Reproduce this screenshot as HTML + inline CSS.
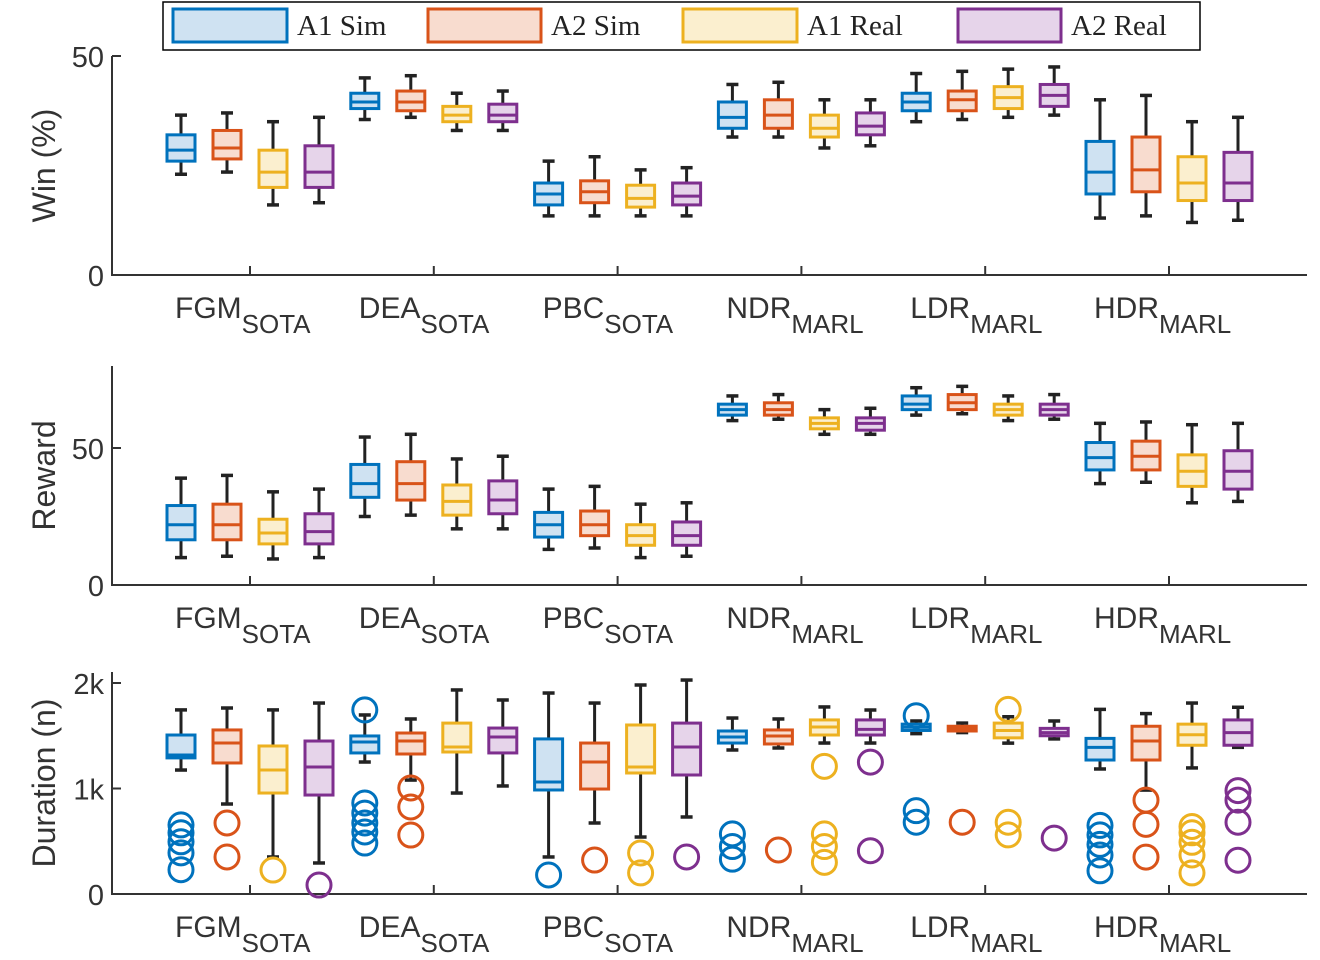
<!DOCTYPE html>
<html><head><meta charset="utf-8">
<style>
html,body{margin:0;padding:0;background:#fff;}
svg{display:block;}
</style></head>
<body>
<svg id="chart" width="1320" height="960" viewBox="0 0 1320 960" xmlns="http://www.w3.org/2000/svg">
  <g id="legend">
    <rect x="163" y="2" width="1037" height="48" fill="#fff" stroke="#000" stroke-width="1.5"/>
  </g>
</svg>
<script>
// ---- data ----
const categories = ["FGM","DEA","PBC","NDR","LDR","HDR"];
const categorySubs = ["SOTA","SOTA","SOTA","MARL","MARL","MARL"];
const seriesNames = ["A1 Sim","A2 Sim","A1 Real","A2 Real"];
const seriesColors = ["#0072BD","#D95319","#EDB120","#7E2F8E"];
const seriesFills = ["#cfe2f2","#f8dccf","#fbefcf","#e6d4ea"];

// [low whisker, q1, median, q3, high whisker] per category per series
const winStats = [
  [[23,26,28.5,32,36.5],[23.5,26.5,29,33,37],[16,20,23.5,28.5,35],[16.5,20,23.5,29.5,36]],
  [[35.5,38,39.5,41.5,45],[36,37.5,39.5,42,45.5],[33,35,36.5,38.5,41.5],[33,35,36.5,39,42]],
  [[13.5,16,18.5,21,26],[13.5,16.5,19,21.5,27],[13.5,15.5,17.5,20.5,24],[13.5,16,18,21,24.5]],
  [[31.5,33.5,36,39.5,43.5],[31.5,33.5,36.5,40,44],[29,31.5,33.5,36.5,40],[29.5,32,34,37,40]],
  [[35,37.5,39.5,41.5,46],[35.5,37.5,40,42,46.5],[36,38,40.5,43,47],[36.5,38.5,41,43.5,47.5]],
  [[13,18.5,23.5,30.5,40],[13.5,19,24,31.5,41],[12,17,21,27,35],[12.5,17,21,28,36]]
];
const rewardStats = [
  [[10,16.5,22,29,39],[10.5,16.5,22,29.5,40],[9.5,15,19,24,34],[10,15,19.5,26,35]],
  [[25,32,37,44,54],[25.5,31,37,45,55],[20.5,25.5,30.5,36.5,46],[20.5,26,31,38,47]],
  [[13,17.5,22,26.5,35],[13.5,18,22,27,36],[10,14.5,18,22,29.5],[10.5,14.5,18,23,30]],
  [[60,62,64,66,69],[60.5,62,64,66.5,69.5],[55,57,59,61,64],[55,56.5,59,61,64.5]],
  [[62,64,66,69,72],[62.5,64,66.5,69.5,72.5],[60,62,64,66,69],[60.5,62,64,66,69.5]],
  [[37,42,46.5,52,59],[37.5,42,47,52.5,59.5],[30,36,41.5,47.5,58.5],[30.5,35,41.5,49,59]]
];
const durationStats = [
  [[1175,1290,1317,1507,1745],[853,1242,1431,1555,1763],[351,957,1175,1403,1745],[294,938,1204,1450,1810]],
  [[1251,1337,1441,1498,1697],[1080,1327,1450,1526,1659],[957,1346,1393,1620,1934],[1024,1337,1488,1573,1839]],
  [[351,986,1062,1470,1905],[673,995,1251,1431,1810],[540,1147,1204,1602,1981],[730,1128,1393,1620,2028]],
  [[1365,1431,1488,1545,1668],[1384,1422,1498,1555,1659],[1431,1507,1583,1650,1773],[1431,1507,1560,1650,1744]],
  [[1520,1550,1580,1610,1640],[1530,1545,1570,1590,1620],[1430,1480,1550,1620,1680],[1470,1500,1530,1570,1640]],
  [[1185,1270,1390,1475,1750],[985,1270,1450,1590,1710],[1195,1410,1510,1610,1810],[1390,1410,1530,1650,1770]]
];
const durationOutliers = [
  [[655,580,495,390,230],[673,351],[227],[85]],
  [[1745,863,767,673,588,483],[1005,825,559],[],[]],
  [[180],[322],[389,200],[351]],
  [[570,450,330],[417],[1210,570,450,300],[1250,410]],
  [[1690,790,680],[680],[1750,680,560],[530]],
  [[650,560,470,370,220],[890,660,350],[640,580,490,370,200],[980,890,680,320]]
];
const winTicks = [0,50];
const winTickLabels = ["0","50"];
const rewardTicks = [0,50];
const rewardTickLabels = ["0","50"];
const durationTicks = [0,1000,2000];
const durationTickLabels = ["0","1k","2k"];

// ---- layout ----
const NS = "http://www.w3.org/2000/svg";
const svg = document.getElementById("chart");
const X0 = 112, X1 = 1307;
const groupCenters0 = 250, groupStep = 183.8;
const boxOffsets = [-69,-23,23,69];
const boxW = 30;
function xCat(i){ return groupCenters0 + i*groupStep; }
function mk(tag, attrs, parent){
  const e = document.createElementNS(NS, tag);
  for (const k in attrs) e.setAttribute(k, attrs[k]);
  (parent||svg).appendChild(e);
  return e;
}
const panels = [
  {name:"win", stats:winStats, outl:null, ticks:winTicks, tl:winTickLabels, vmin:0, vmax:50, yBot:275, yTop:56, axisTop:56, title:"Win (%)"},
  {name:"reward", stats:rewardStats, outl:null, ticks:rewardTicks, tl:rewardTickLabels, vmin:0, vmax:50, yBot:585, yTop:448, axisTop:366, title:"Reward"},
  {name:"duration", stats:durationStats, outl:durationOutliers, ticks:durationTicks, tl:durationTickLabels, vmin:0, vmax:2000, yBot:894, yTop:683, axisTop:672, title:"Duration (n)"}
];
panels.forEach(p=>{
  const g = mk("g",{});
  
  
  const y = v => p.yBot - (v-p.vmin)/(p.vmax-p.vmin)*(p.yBot-p.yTop);
  const ax = mk("path",{d:`M${X0},${p.axisTop} L${X0},${p.yBot} L${X1},${p.yBot}`, fill:"none", stroke:"#333", "stroke-width":2}, g);
  
  
  p.ticks.forEach((t,i)=>{
    mk("line",{x1:X0,x2:X0+9,y1:y(t),y2:y(t),stroke:"#333","stroke-width":2},g);
    const tx = mk("text",{x:X0-8,y:y(t)+11,"text-anchor":"end","font-family":"Liberation Sans, sans-serif","font-size":29,fill:"#333"},g);
    tx.textContent = p.tl[i];
    
    
  });
  const yt = mk("text",{transform:`translate(55,${(p.axisTop+p.yBot)/2}) rotate(-90)`,"text-anchor":"middle","font-family":"Liberation Sans, sans-serif","font-size":32,fill:"#333"},g);
  yt.textContent = p.title;
  
  
  categories.forEach((c,ci)=>{
    const cx = xCat(ci);
    mk("line",{x1:cx,x2:cx,y1:p.yBot,y2:p.yBot-9,stroke:"#333","stroke-width":2},g);
    const lt = mk("text",{x:cx-75,y:p.yBot+43,"font-family":"Liberation Sans, sans-serif","font-size":30,fill:"#333"},g);
    const s1 = mk("tspan",{},lt); s1.textContent = c;
    const s2 = mk("tspan",{dy:15,"font-size":26},lt); s2.textContent = categorySubs[ci];
    
    
    p.stats[ci].forEach((s,si)=>{
      const bx = cx + boxOffsets[si];
      const col = seriesColors[si];
      const bg = mk("g",{},g);
      
      
      mk("line",{x1:bx,x2:bx,y1:y(s[0]),y2:y(s[4]),stroke:"#222","stroke-width":3},bg);
      mk("line",{x1:bx-6,x2:bx+6,y1:y(s[0]),y2:y(s[0]),stroke:"#222","stroke-width":3.5},bg);
      mk("line",{x1:bx-6,x2:bx+6,y1:y(s[4]),y2:y(s[4]),stroke:"#222","stroke-width":3.5},bg);
      mk("rect",{x:bx-boxW/2+1,y:y(s[3]),width:boxW-2,height:Math.max(2,y(s[1])-y(s[3])),fill:seriesFills[si],stroke:col,"stroke-width":3},bg);
      mk("line",{x1:bx-boxW/2+1,x2:bx+boxW/2-1,y1:y(s[2]),y2:y(s[2]),stroke:col,"stroke-width":3},bg);
      if (p.outl){
        p.outl[ci][si].forEach(o=>{
          mk("circle",{cx:bx,cy:y(o),r:12,fill:"none",stroke:col,"stroke-width":3},bg);
        });
      }
    });
  });
});
// legend
const lg = document.getElementById("legend");
const legX = [173,428,683,958];
const legW = [114,113,114,103];
seriesNames.forEach((n,i)=>{
  const r = mk("rect",{x:legX[i],y:9,width:legW[i],height:33,fill:seriesFills[i],stroke:seriesColors[i],"stroke-width":3},lg);
  
  
  const t = mk("text",{x:legX[i]+legW[i]+10,y:35,"font-family":"Liberation Serif, serif","font-size":29,fill:"#222"},lg);
  t.textContent = n;
  
  
});
</script>
</body></html>
